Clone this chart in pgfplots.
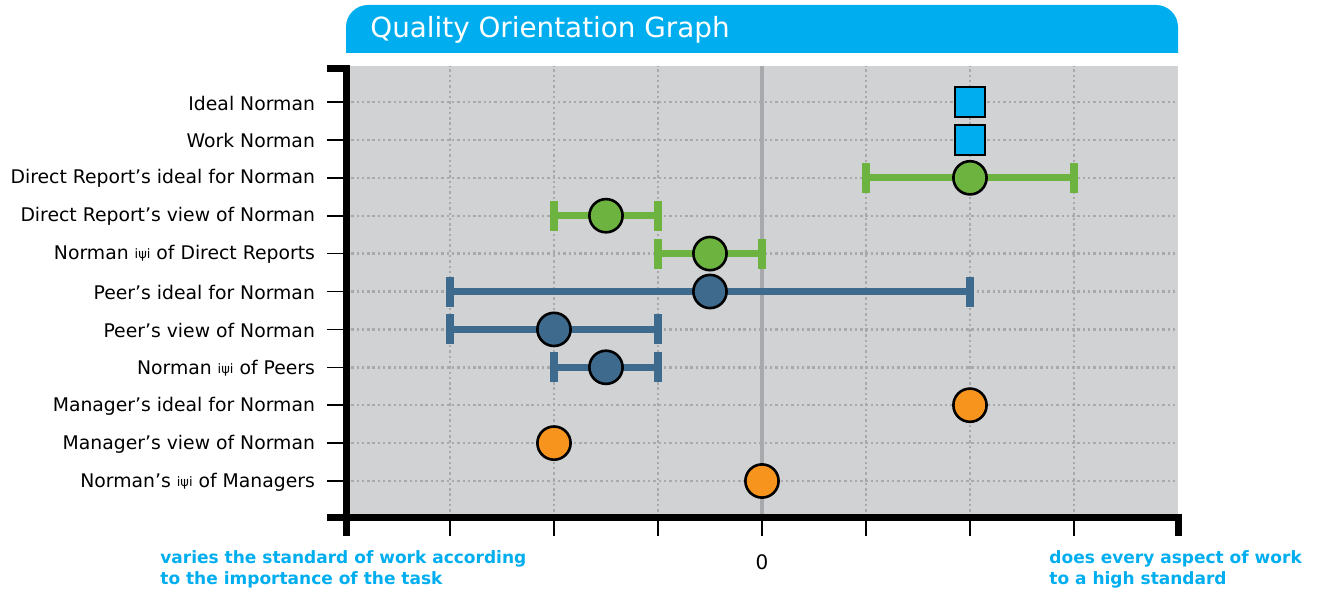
\documentclass[border=0pt]{standalone}
\usepackage{pgfplots}
\pgfplotsset{compat=1.18}
\usepackage{fontspec}
\setmainfont{DejaVu Sans}
\definecolor{qblue}{HTML}{00AEEF}
\definecolor{qgreen}{HTML}{6DB33F}
\definecolor{qsteel}{HTML}{3D6A8D}
\definecolor{qorange}{HTML}{F7941D}
\definecolor{qbg}{HTML}{D1D2D4}
\definecolor{qgrid}{HTML}{A7A9AC}
\newcommand{\iwi}{\raisebox{0.4pt}{\fontsize{6.5}{7}\selectfont iψi}}
\begin{document}
\begin{tikzpicture}[x=1pt,y=1pt]
\begin{axis}[name=ax, at={(0,0)}, anchor=south west,
  scale only axis, width=416pt, height=225.5pt,
  xmin=-4, xmax=4, ymin=0.05, ymax=11.95,
  axis background/.style={fill=qbg},
  axis line style={draw=none},
  xtick={-3,-2,-1,0,1,2,3}, ytick={1,...,11},
  xtick pos=bottom, ytick pos=left,
  tick align=outside, major tick length=9.5pt,
  tick style={black, line width=0.8pt},
  grid=major,
  major grid style={qgrid, line width=1.2pt, dash pattern=on 1.2pt off 1.45pt},
  xticklabels={,,,0,,,},
  xticklabel style={font=\fontsize{10}{12}\selectfont, yshift=-6pt},
  yticklabels={Norman’s \iwi{} of Managers, Manager’s view of Norman, Manager’s ideal for Norman, Norman \iwi{} of Peers, Peer’s view of Norman, Peer’s ideal for Norman, Norman \iwi{} of Direct Reports, Direct Report’s view of Norman, Direct Report’s ideal for Norman, Work Norman, Ideal Norman},
  yticklabel style={font=\fontsize{9.4}{11}\selectfont, anchor=east, xshift=-2.5pt, yshift=-0.5pt},
  clip=false,
]
\draw[qgrid, line width=1.6pt] (axis cs:0,0.05) -- (axis cs:0,11.95);
% error bars
\addplot[draw=none, mark=none, forget plot,
  error bars/.cd, x dir=both, x explicit,
  error bar style={draw=qgreen, line width=3.4pt},
  error mark options={draw=qgreen, line width=3.6pt, mark size=7.5pt, rotate=90}]
  coordinates {(2,9) +- (1,0) (-1.5,8) +- (0.5,0) (-0.5,7) +- (0.5,0)};
\addplot[draw=none, mark=none, forget plot,
  error bars/.cd, x dir=both, x explicit,
  error bar style={draw=qsteel, line width=3.4pt},
  error mark options={draw=qsteel, line width=3.6pt, mark size=7.5pt, rotate=90}]
  coordinates {(-0.5,6) +- (2.5,0) (-2,5) +- (1,0) (-1.5,4) +- (0.5,0)};
% markers
\addplot[only marks, mark=square*, mark size=7.6pt, mark options={fill=qblue, draw=black, line width=1.2pt}]
  coordinates {(2,11) (2,10)};
\addplot[only marks, mark=*, mark size=8.3pt, mark options={fill=qgreen, draw=black, line width=1.3pt}]
  coordinates {(2,9) (-1.5,8) (-0.5,7)};
\addplot[only marks, mark=*, mark size=8.3pt, mark options={fill=qsteel, draw=black, line width=1.3pt}]
  coordinates {(-0.5,6) (-2,5) (-1.5,4)};
\addplot[only marks, mark=*, mark size=8.3pt, mark options={fill=qorange, draw=black, line width=1.3pt}]
  coordinates {(2,3) (-2,2) (0,1)};
\end{axis}
\begin{scope}[shift={(ax.south west)}]
  % frame
  \fill[black] (-1.75,-9.5) rectangle (1.75,226);
  \fill[black] (-9.5,222.5) rectangle (0,226);
  \fill[black] (-9.5,-1.75) rectangle (417.75,1.75);
  \fill[black] (414.25,-9.5) rectangle (417.75,1.75);
  % title
  \fill[qblue] (0,232) [rounded corners=11pt] -- (0,256) -- (416,256) [sharp corners] -- (416,232) -- cycle;
  \node[anchor=base west, text=white, inner sep=0pt, font=\fontsize{13.9}{16}\selectfont] at (12,239.5) {Quality Orientation Graph};
  % end labels
  \node[anchor=north west, inner sep=0pt, align=left, text=qblue, font=\bfseries\fontsize{8.5}{10.5}\selectfont] at (-93,-16.5) {varies the standard of work according\\to the importance of the task};
  \node[anchor=north west, inner sep=0pt, align=left, text=qblue, font=\bfseries\fontsize{8.5}{10.5}\selectfont] at (351.5,-16.5) {does every aspect of work\\to a high standard};
  \pgfresetboundingbox
  \path[use as bounding box] (-173,-36.5) rectangle (488,258.5);
\end{scope}
\end{tikzpicture}
\end{document}
